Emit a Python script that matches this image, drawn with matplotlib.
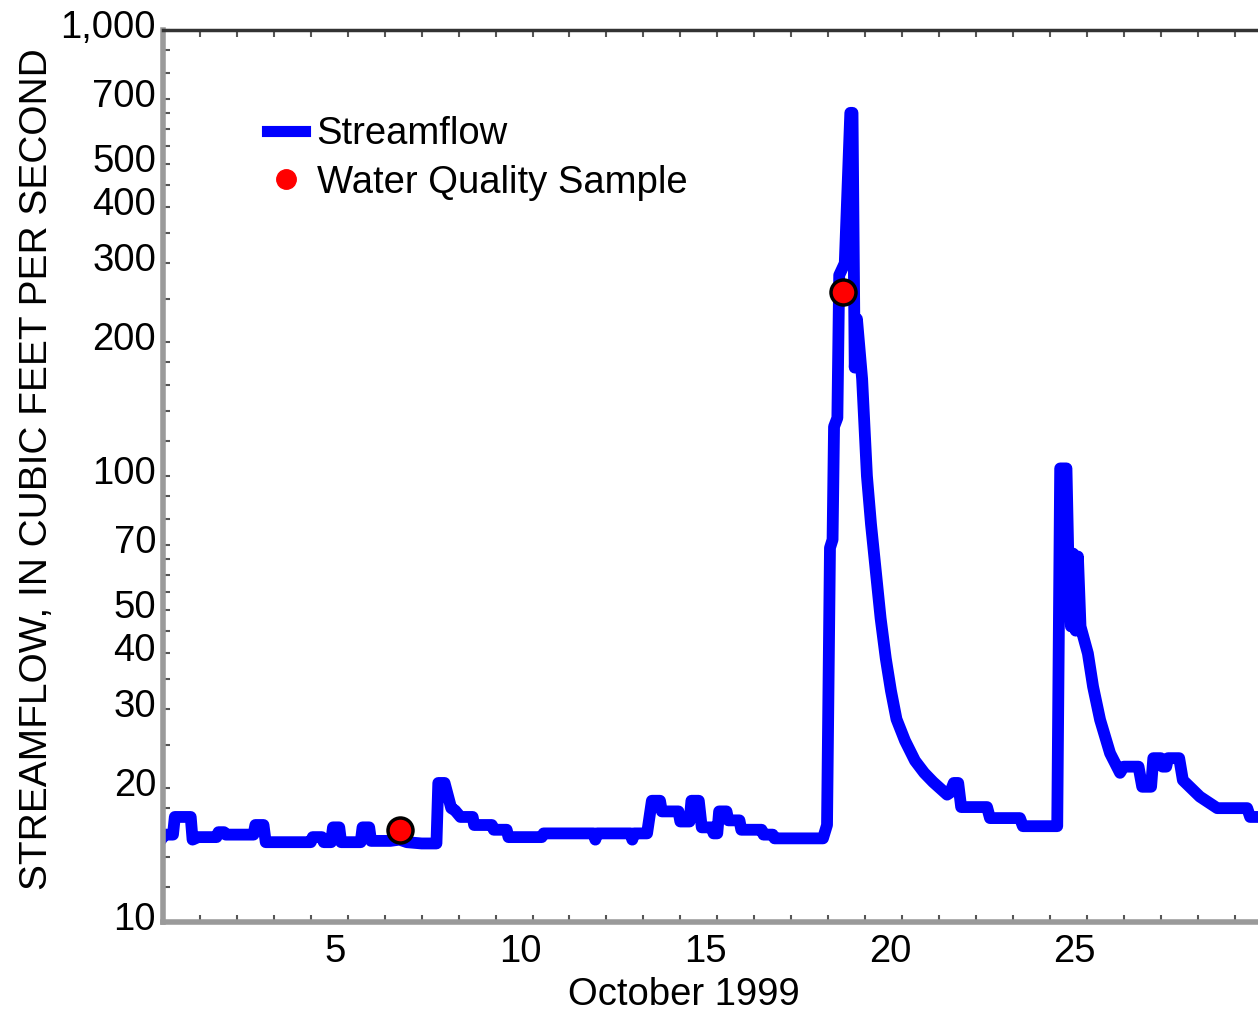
# streamflow hydrograph, october 1999, log scale
import matplotlib
matplotlib.use('Agg')
import matplotlib.pyplot as plt
from matplotlib.lines import Line2D
from matplotlib.ticker import FixedLocator, NullFormatter
from matplotlib.transforms import ScaledTranslation

plt.rcParams['font.family'] = ['Liberation Sans', 'DejaVu Sans']

# DATA (day of month, Oct 1 00:00 = 1.0 ; streamflow in cfs)
day = [1.00, 1.05, 1.27, 1.32, 1.75, 1.80, 1.95, 2.45, 2.50, 2.65, 2.70, 3.45,
       3.50, 3.72, 3.78, 5.00, 5.05, 5.30, 5.35, 5.55, 5.60, 5.77, 5.82, 6.35,
       6.40, 6.58, 6.63, 7.15, 7.40, 7.60, 8.00, 8.40, 8.45, 8.62, 8.80, 8.90,
       9.05, 9.38, 9.42, 9.90, 9.95, 10.30, 10.35, 11.25, 11.30, 12.65, 12.70,
       12.75, 13.65, 13.70, 13.75, 14.10, 14.23, 14.45, 14.50, 14.95, 15.00,
       15.25, 15.30, 15.50, 15.58, 15.85, 15.90, 16.00, 16.05, 16.25, 16.30,
       16.60, 16.65, 17.20, 17.25, 17.50, 17.55, 18.86,
       18.97, 19.05, 19.12, 19.16, 19.25, 19.30, 19.45, 19.60, 19.66, 19.72,
       19.78, 19.92, 20.05, 20.16, 20.30, 20.42, 20.56, 20.70, 20.85, 21.08,
       21.35, 21.60, 21.84, 22.22, 22.30, 22.40, 22.52, 22.60, 23.30, 23.38,
       24.19, 24.27, 25.20,
       25.28, 25.45, 25.50, 25.57, 25.63, 25.70, 25.76, 25.83, 26.03, 26.17,
       26.36, 26.63, 26.90, 27.00, 27.40, 27.50, 27.74, 27.80, 28.00, 28.05,
       28.15, 28.20, 28.50, 28.60, 29.06, 29.53, 30.34, 30.42, 31.00]
flow = [15.5, 15.7, 15.7, 17.2, 17.2, 15.3, 15.5, 15.5, 15.9, 15.9, 15.7, 15.7,
        16.5, 16.5, 15.1, 15.1, 15.5, 15.5, 15.1, 15.1, 16.3, 16.3, 15.1, 15.1,
        16.3, 16.3, 15.2, 15.2, 15.3, 15.1, 15.0, 15.0, 20.5, 20.5, 18.0, 17.8,
        17.2, 17.2, 16.5, 16.5, 16.1, 16.1, 15.5, 15.5, 15.8, 15.8, 15.3,
        15.8, 15.8, 15.3, 15.8, 15.8, 18.7, 18.7, 17.7, 17.7, 16.8,
        16.8, 18.7, 18.7, 16.3, 16.3, 15.8, 15.8, 17.7, 17.7, 16.9,
        16.9, 16.1, 16.1, 15.7, 15.7, 15.4, 15.4,
        16.5, 69, 72, 129, 135, 282, 300, 652, 652, 175,
        225, 165, 100, 78, 60, 48, 39, 33, 28.5, 25.5,
        23.0, 21.6, 20.6, 19.3, 19.5, 20.5, 20.5, 18.1, 18.1, 17.1,
        17.1, 16.4, 16.4,
        104, 104, 66, 46, 67, 45, 66, 46, 40, 33.7,
        28.4, 23.9, 21.6, 22.3, 22.3, 20.1, 20.1, 23.3, 23.3, 22.3,
        22.3, 23.3, 23.3, 20.8, 19.1, 18.0, 18.0, 17.2, 17.2]

sample_day = [7.41, 19.41]
sample_flow = [16.1, 258]

xtick_days = [5, 10, 15, 20, 25]
ytick_vals = [10, 20, 30, 40, 50, 70, 100, 200, 300, 400, 500, 700, 1000]
ytick_text = ['10', '20', '30', '40', '50', '70', '100', '200', '300', '400',
              '500', '700', '1,000']
yminor = [12, 14, 16, 18, 25, 35, 45, 55, 60, 65, 80, 90,
          120, 140, 160, 180, 250, 350, 450, 550, 600, 650, 800, 900]

# FIGURE
fig = plt.figure(figsize=(12.58, 10.11), dpi=100)
# axes runs past the right edge of the picture (cropped like the original)
ax = fig.add_axes([163/1258, 89/1011, 1145.5/1258, 892/1011])

ax.plot(day, flow, color='#0000ff', lw=8.5, solid_joinstyle='round', zorder=2)
ax.plot(sample_day, sample_flow, ls='none', marker='o', ms=18,
        mfc='#ff0000', mec='black', mew=2.5, zorder=3)

ax.set_yscale('log')
ax.set_ylim(10, 1000)
ax.set_xlim(1, 32)

ax.yaxis.set_major_locator(FixedLocator(ytick_vals))
ax.set_yticklabels(ytick_text)
ax.yaxis.set_minor_locator(FixedLocator(yminor))
ax.yaxis.set_minor_formatter(NullFormatter())

ax.set_xticks([d + 0.67 for d in xtick_days])
ax.set_xticklabels([str(d) for d in xtick_days])
ax.xaxis.set_minor_locator(FixedLocator(range(1, 33)))

ax.tick_params(axis='both', which='both', direction='in', labelsize=27.5,
               color='#555555', width=1.5, length=5)
ax.tick_params(axis='x', which='major', length=0, pad=9)
ax.tick_params(axis='x', which='minor', top=True)
ax.tick_params(axis='y', which='major', pad=5)

# y labels sit a bit above their ticks in the original
off = ScaledTranslation(0, 6/100, fig.dpi_scale_trans)
for t in ax.yaxis.get_major_ticks():
    t.label1.set_transform(t.label1.get_transform() + off)

for s in ['left', 'bottom']:
    ax.spines[s].set_color('#9a9a9a')
    ax.spines[s].set_linewidth(4)
ax.spines['top'].set_color('#333333')
ax.spines['top'].set_linewidth(2.5)

fig.text(47/1258, 1 - 469/1011, 'STREAMFLOW, IN CUBIC FEET PER SECOND',
         rotation=90, rotation_mode='anchor', ha='center', va='baseline',
         fontsize=28)
fig.text(684/1258, 1 - 1005/1011, 'October 1999', ha='center',
         va='baseline', fontsize=27.5)

handles = [Line2D([], [], color='#0000ff', lw=8),
           Line2D([], [], ls='none', marker='o', ms=14, mfc='#ff0000',
                  mec='#ff0000')]
ax.legend(handles, ['Streamflow', 'Water Quality Sample'], loc='upper left',
          bbox_to_anchor=(267/1258, 1 - 116/1011),
          bbox_transform=fig.transFigure, frameon=False, fontsize=27.5,
          borderpad=0, borderaxespad=0, handlelength=1.0, handletextpad=0.3,
          labelspacing=0.33)

plt.savefig('out.png', dpi=100)
